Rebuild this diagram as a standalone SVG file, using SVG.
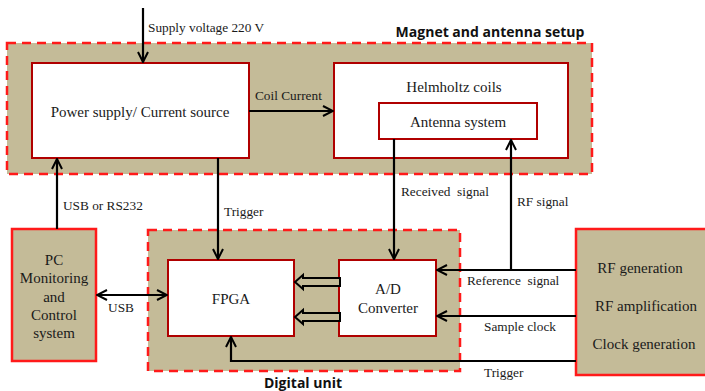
<svg xmlns="http://www.w3.org/2000/svg" width="705" height="391" viewBox="0 0 705 391">
<style>
.grp{fill:#c4bb98;stroke:#ff1a1a;stroke-width:2.5;stroke-dasharray:9 6}
.box{fill:#fff;stroke:#b00000;stroke-width:2}
.ext{fill:#c4bb98;stroke:#ff1a1a;stroke-width:2.5}
.t{font-family:"Liberation Serif",serif;font-size:15px;fill:#1a1a1a}
.l{font-family:"Liberation Serif",serif;font-size:13.3px;fill:#1a1a1a;white-space:pre}
.h{font-family:"Open Sans","Liberation Sans",sans-serif;font-size:14px;font-weight:bold;fill:#111}
.w{fill:none;stroke:#000;stroke-width:2.2}
.ha{fill:#c4bb98;stroke:#000;stroke-width:2}
</style>
<defs>
<marker id="ar" viewBox="0 0 12 12" refX="11" refY="6" markerWidth="12" markerHeight="12" markerUnits="userSpaceOnUse" orient="auto-start-reverse">
<path d="M1,1 L11,6 L1,11" fill="none" stroke="#000" stroke-width="2"/>
</marker>
</defs>
<g id="magnet-antenna-setup">
<rect class="grp" x="7" y="43" width="585" height="131"/>
<text class="h" x="490" y="37" text-anchor="middle">Magnet and antenna setup</text>
</g>
<g id="digital-unit">
<rect class="grp" x="148" y="230" width="312" height="141"/>
<text class="h" x="303" y="388" text-anchor="middle">Digital unit</text>
</g>
<g id="power-supply">
<rect class="box" x="32" y="63" width="217" height="95"/>
<text class="t" x="140" y="117" text-anchor="middle">Power supply/ Current source</text>
</g>
<g id="helmholtz">
<rect class="box" x="334" y="63" width="234" height="95"/>
<text class="t" x="454" y="92" text-anchor="middle">Helmholtz coils</text>
</g>
<g id="antenna">
<rect class="box" x="379" y="103" width="158" height="36"/>
<text class="t" x="458" y="127" text-anchor="middle">Antenna system</text>
</g>
<g id="pc">
<rect class="ext" x="12" y="229" width="84" height="132"/>
<text class="t" text-anchor="middle"><tspan x="54" y="265">PC</tspan><tspan x="54" y="283">Monitoring</tspan><tspan x="54" y="302">and</tspan><tspan x="54" y="320">Control</tspan><tspan x="54" y="338">system</tspan></text>
</g>
<g id="fpga">
<rect class="box" x="168" y="260" width="126" height="76"/>
<text class="t" x="231" y="304" text-anchor="middle">FPGA</text>
</g>
<g id="adc">
<rect class="box" x="339" y="260" width="97" height="76"/>
<text class="t" text-anchor="middle"><tspan x="388" y="294">A/D</tspan><tspan x="388" y="313">Converter</tspan></text>
</g>
<g id="rf-unit">
<rect class="ext" x="576" y="229" width="140" height="146"/>
<text class="t" text-anchor="middle"><tspan x="640" y="273">RF generation</tspan><tspan x="646" y="311">RF amplification</tspan><tspan x="644" y="349">Clock generation</tspan></text>
</g>
<g id="connectors">
<path class="w" d="M143,8 V62" marker-end="url(#ar)"/>
<text class="l" x="148" y="32">Supply voltage 220 V</text>
<path class="w" d="M249,111 H333" marker-end="url(#ar)"/>
<text class="l" x="255" y="100">Coil Current</text>
<path class="w" d="M394,139 V259" marker-end="url(#ar)"/>
<text class="l" x="401" y="196">Received  signal</text>
<path class="w" d="M511,270 V140" marker-end="url(#ar)"/>
<text class="l" x="517" y="206">RF signal</text>
<path class="w" d="M218,158 V259" marker-end="url(#ar)"/>
<text class="l" x="224" y="216">Trigger</text>
<path class="w" d="M57,229 V159" marker-end="url(#ar)"/>
<text class="l" x="63" y="210">USB or RS232</text>
<path class="w" d="M97,295 H167" marker-start="url(#ar)" marker-end="url(#ar)"/>
<text class="l" x="121" y="312" text-anchor="middle">USB</text>
<path class="w" d="M576,270 H437" marker-end="url(#ar)"/>
<text class="l" x="467" y="285">Reference  signal</text>
<path class="w" d="M576,316 H437" marker-end="url(#ar)"/>
<text class="l" x="484" y="331">Sample clock</text>
<path class="w" d="M576,361 H231 V337" marker-end="url(#ar)"/>
<text class="l" x="484" y="377">Trigger</text>
<path class="ha" d="M295,282 L303,275 V278 H340 V286 H303 V289 Z"/>
<path class="ha" d="M295,317 L303,310 V313 H340 V321 H303 V324 Z"/>
</g>
</svg>
